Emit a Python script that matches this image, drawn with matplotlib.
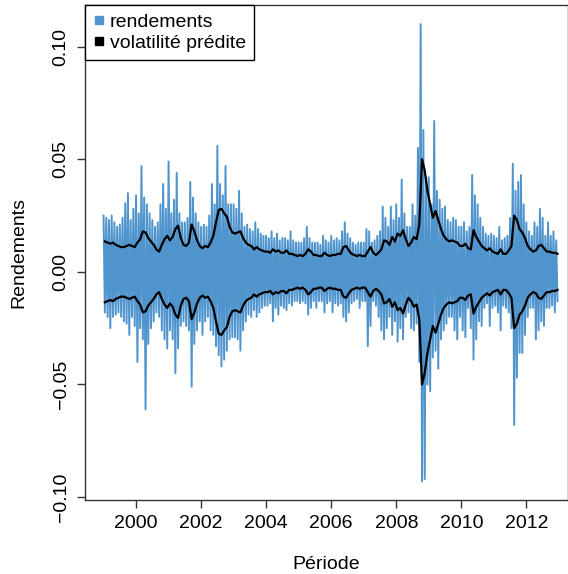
import matplotlib
matplotlib.use("Agg")
import matplotlib.pyplot as plt
from matplotlib.lines import Line2D
from matplotlib.ticker import FuncFormatter
import numpy as np

plt.rcParams['font.family'] = ['Liberation Sans', 'DejaVu Sans']

START_YEAR = 1999

# predicted volatility, monthly, in %
vol_pct = [
    1.35, 1.30, 1.25, 1.30, 1.20, 1.15, 1.10, 1.10, 1.15, 1.20, 1.15, 1.10,   # 1999
    1.30, 1.45, 1.80, 1.75, 1.50, 1.35, 1.20, 1.00, 0.90, 1.20, 1.45, 1.60,   # 2000
    1.40, 1.55, 1.90, 2.05, 1.50, 1.20, 1.15, 1.30, 2.10, 1.80, 1.40, 1.15,   # 2001
    1.05, 1.15, 1.10, 1.30, 1.60, 2.20, 2.75, 2.80, 2.60, 2.45, 2.00, 1.75,   # 2002
    1.70, 1.75, 1.80, 1.50, 1.30, 1.20, 1.15, 1.00, 1.10, 1.00, 0.95, 0.90,   # 2003
    0.90, 0.85, 1.00, 0.90, 0.95, 0.85, 0.85, 0.95, 0.80, 0.80, 0.75, 0.70,   # 2004
    0.75, 0.70, 0.80, 1.00, 0.90, 0.75, 0.75, 0.70, 0.70, 0.85, 0.75, 0.70,   # 2005
    0.75, 0.75, 0.80, 0.80, 1.10, 1.15, 0.95, 0.80, 0.75, 0.70, 0.75, 0.70,   # 2006
    0.70, 0.90, 1.10, 0.85, 0.75, 0.85, 1.00, 1.40, 1.35, 1.20, 1.55, 1.35,   # 2007
    1.70, 1.60, 1.85, 1.45, 1.15, 1.30, 1.55, 1.45, 2.10, 5.00, 4.50, 3.60,   # 2008
    3.00, 2.40, 2.70, 2.30, 1.90, 1.60, 1.45, 1.35, 1.40, 1.35, 1.30, 1.15,   # 2009
    1.15, 1.25, 1.05, 1.00, 1.85, 1.55, 1.35, 1.15, 1.05, 0.95, 1.05, 0.90,   # 2010
    0.85, 0.80, 1.00, 0.80, 0.80, 0.95, 1.15, 2.50, 2.30, 1.90, 1.75, 1.50,   # 2011
    1.15, 1.00, 0.90, 0.95, 1.15, 1.20, 1.05, 0.90, 0.90, 0.85, 0.85, 0.80,   # 2012
]

# monthly highest daily return, in %
ret_hi_pct = [
    2.5, 2.4, 2.3, 2.5, 2.2, 2.0, 2.1, 2.4, 3.05, 3.5, 2.3, 2.8,
    3.4, 2.6, 4.7, 3.3, 3.0, 2.6, 2.3, 2.0, 2.2, 3.0, 3.9, 2.8,
    4.9, 2.6, 3.2, 4.4, 2.6, 2.2, 2.2, 2.4, 4.0, 3.3, 2.6, 2.2,
    2.0, 2.1, 2.0, 2.5, 3.9, 3.0, 5.6, 3.9, 3.4, 4.7, 3.0, 3.0,
    3.0, 2.8, 3.6, 2.6, 2.0, 2.1, 1.9, 1.8, 2.2, 1.9, 1.7, 1.6,
    1.6, 1.5, 1.8, 1.5, 1.7, 1.4, 1.5, 1.5, 1.4, 1.8, 1.4, 1.3,
    1.3, 1.3, 1.5, 2.0, 1.5, 1.3, 1.3, 1.3, 1.2, 1.6, 1.4, 1.3,
    1.6, 1.4, 1.5, 1.4, 1.8, 2.2, 1.7, 1.5, 1.3, 1.2, 1.3, 1.3,
    1.3, 1.9, 1.8, 1.3, 1.4, 1.6, 1.8, 2.9, 2.4, 2.0, 2.9, 2.3,
    3.0, 2.4, 4.1, 2.6, 2.0, 2.0, 3.0, 2.5, 5.5, 11.0, 6.3, 4.2,
    4.2, 3.0, 6.7, 3.6, 3.2, 2.8, 2.9, 2.3, 2.2, 2.4, 2.3, 2.0,
    2.0, 2.2, 1.8, 2.0, 4.3, 3.4, 3.0, 2.4, 2.0, 1.7, 1.6, 1.7,
    1.6, 1.5, 2.0, 1.4, 1.5, 1.6, 2.4, 4.8, 3.6, 4.0, 4.3, 3.0,
    2.2, 1.8, 1.6, 2.2, 2.0, 2.8, 2.4, 1.6, 2.2, 1.6, 1.8, 1.4,
]

# monthly lowest daily return, in %
ret_lo_pct = [
    -1.8, -2.0, -2.5, -2.0, -1.9, -1.8, -2.0, -2.2, -2.3, -2.8, -2.0, -2.4,
    -4.0, -2.5, -3.0, -6.1, -3.2, -2.5, -2.2, -1.8, -2.0, -2.6, -3.0, -3.4,
    -2.6, -3.0, -4.5, -3.4, -2.4, -2.2, -2.4, -2.6, -5.1, -3.2, -2.6, -2.2,
    -2.8, -2.2, -2.0, -2.6, -2.8, -3.3, -3.7, -4.2, -3.9, -3.5, -3.0, -2.9,
    -2.9, -3.0, -3.5, -2.6, -2.2, -1.9, -2.0, -1.7, -2.0, -1.8, -1.6, -1.5,
    -1.5, -1.4, -2.2, -1.6, -1.9, -1.5, -1.6, -1.7, -1.4, -1.5, -1.3, -1.3,
    -1.4, -1.3, -1.4, -1.9, -1.6, -1.3, -1.6, -1.3, -1.3, -1.8, -1.4, -1.3,
    -1.8, -1.4, -1.5, -1.4, -2.0, -2.2, -1.8, -1.4, -1.3, -1.2, -1.6, -1.3,
    -1.3, -3.3, -2.4, -1.3, -1.5, -2.0, -2.6, -3.0, -2.5, -2.0, -2.8, -2.2,
    -3.1, -2.5, -3.0, -2.0, -1.8, -2.5, -2.6, -2.3, -4.0, -9.3, -9.2, -5.0,
    -5.3, -3.8, -3.5, -4.3, -3.0, -2.6, -2.3, -2.0, -2.0, -2.6, -3.0, -2.0,
    -2.6, -2.9, -1.6, -2.5, -3.9, -3.0, -2.2, -2.4, -1.6, -1.4, -2.4, -1.6,
    -1.5, -1.8, -2.6, -1.5, -1.6, -1.8, -2.5, -6.8, -4.7, -3.6, -3.6, -2.8,
    -2.0, -1.6, -1.6, -3.0, -2.6, -2.2, -2.4, -1.6, -1.6, -1.5, -1.8, -1.3,
]

X_TICKS = [2000, 2002, 2004, 2006, 2008, 2010, 2012]
Y_TICKS = [-0.10, -0.05, 0.00, 0.05, 0.10]

BLUE = '#4F94CD'  # steelblue3
FS = 14

vol = np.array(vol_pct) / 100
hi = np.array(ret_hi_pct) / 100
lo = np.array(ret_lo_pct) / 100

n_months = len(vol)
month_start = START_YEAR + np.arange(n_months) / 12
month_mid = month_start + 0.5 / 12

# returns drawn as a zig-zag between each month's extremes
t_ret = np.column_stack([month_start, month_mid]).ravel()
r_ret = np.column_stack([hi, lo]).ravel()

fig = plt.figure(figsize=(5.68, 5.74), dpi=100)
ax = fig.add_axes([85 / 568, 74 / 574, (568 - 85) / 568, (569 - 74) / 574])

ax.plot(t_ret, r_ret, color=BLUE, linewidth=1.4)
ax.plot(month_mid, vol, color='black', linewidth=1.6)
ax.plot(month_mid, -vol, color='black', linewidth=1.6)

ax.set_xlim(1998.43, 2013.28)
ax.set_ylim(-0.1013, 0.1185)
ax.set_xticks(X_TICKS)
ax.set_yticks(Y_TICKS)
ax.yaxis.set_major_formatter(FuncFormatter(lambda v, p: f"{v:.2f}".replace('-', '\u2212')))
ax.tick_params(direction='out', length=6, width=1, labelsize=FS, colors='#333333',
               labelcolor='black')
ax.tick_params(axis='x', pad=5)
ax.tick_params(axis='y', pad=5)
for lab in ax.get_yticklabels():
    lab.set_rotation(90)
    lab.set_va('center')

for side in ax.spines.values():
    side.set_color('#333333')
    side.set_linewidth(1)

ax.set_xlabel("Période", fontsize=FS, labelpad=17)
ax.set_ylabel("Rendements", fontsize=FS, labelpad=18)

handles = [
    Line2D([], [], marker='s', color=BLUE, linestyle='none', markersize=6),
    Line2D([], [], marker='s', color='black', linestyle='none', markersize=6),
]
leg = ax.legend(handles, ["rendements", "volatilité prédite"], loc='upper left',
                bbox_to_anchor=(0, 1), borderaxespad=0, fontsize=FS,
                frameon=True, fancybox=False, framealpha=1, edgecolor='black',
                handlelength=0.6, handletextpad=0.25, borderpad=0.42, labelspacing=0.2)
leg.get_frame().set_linewidth(1)

fig.savefig("out.png", dpi=100)
